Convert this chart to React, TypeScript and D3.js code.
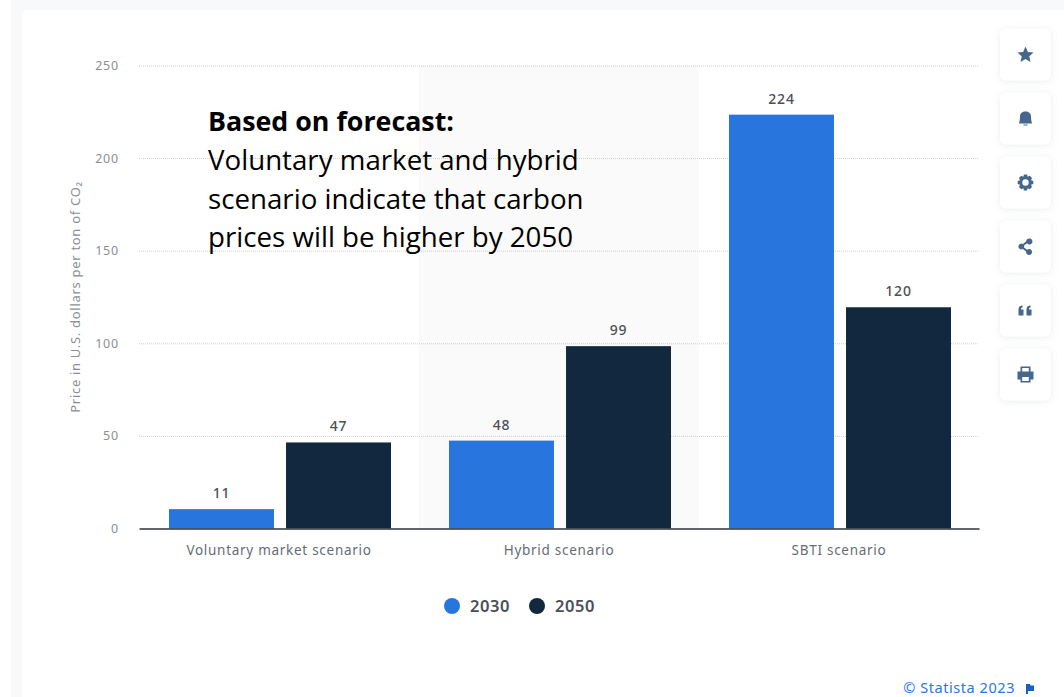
import React, { useEffect, useRef } from 'react';
import * as d3 from 'd3';

const categories = ['Voluntary market scenario', 'Hybrid scenario', 'SBTI scenario'];
const seriesNames = ['2030', '2050'];
const values2030 = [11, 48, 224];
const values2050 = [47, 99, 120];
const yTicks = [0, 50, 100, 150, 200, 250];
const noteLines = [
  'Voluntary market and hybrid',
  'scenario indicate that carbon',
  'prices will be higher by 2050',
];

const width = 1064;
const height = 697;
const margin = { top: 65.5, right: 85, bottom: 168.5, left: 139 };
const colors = ['#2875dd', '#12283e'];
const font = '"Noto Sans", sans-serif';
const noteFont = '"Open Sans", sans-serif';

// side buttons of the page, icons are drawn around the button centre
const buttons = [
  'M0,-8 L2.4,-2.6 L8,-2 L3.8,1.8 L5,7.6 L0,4.6 L-5,7.6 L-3.8,1.8 L-8,-2 L-2.4,-2.6 Z',
  'M-6.5,5 C-6,3 -5.5,1 -5.5,-2 C-5.5,-5.5 -3,-7 0,-7 C3,-7 5.5,-5.5 5.5,-2 C5.5,1 6,3 6.5,5 Z M-2,6 H2 V7 H-2 Z',
  'M-1.6,-8 H1.6 L2.1,-5.8 L4.3,-6.7 L6.5,-4.4 L5.5,-2.3 L7.8,-1.6 V1.6 L5.5,2.3 L6.5,4.4 L4.3,6.7 L2.1,5.8 L1.6,8 H-1.6 L-2.1,5.8 L-4.3,6.7 L-6.5,4.4 L-5.5,2.3 L-7.8,1.6 V-1.6 L-5.5,-2.3 L-6.5,-4.4 L-4.3,-6.7 L-2.1,-5.8 Z M0,-3.2 A3.2,3.2 0 1 0 0,3.2 A3.2,3.2 0 1 0 0,-3.2 Z',
  'M4,-8 A3,3 0 1 1 1.6,-3.2 L-1.5,-1 A3,3 0 0 1 -1.5,1 L1.6,3.2 A3,3 0 1 1 0.6,5 L-2.6,2.6 A3,3 0 1 1 -2.6,-2.6 L0.6,-5 A3,3 0 0 1 4,-8 Z',
  'M-7,-1 C-7,-3.5 -5.5,-5 -3,-5 V-3 C-4,-3 -4.5,-2.5 -4.5,-1 H-2 V5 H-7 Z M1,-1 C1,-3.5 2.5,-5 5,-5 V-3 C4,-3 3.5,-2.5 3.5,-1 H6 V5 H1 Z',
  'M-5,-8 H5 V-3 H8 V5 H5 V8 H-5 V5 H-8 V-3 H-5 Z M-3.3,-6.4 V-3 H3.3 V-6.4 Z M-3.3,2.6 V6.4 H3.3 V2.6 Z',
];

export default function App() {
  const svgRef = useRef<SVGSVGElement>(null);

  useEffect(() => {
    if (!svgRef.current) return;
    const svg = d3.select(svgRef.current);
    svg.selectAll('*').remove();

    const innerWidth = width - margin.left - margin.right;
    const innerHeight = height - margin.top - margin.bottom;

    const defs = svg.append('defs');
    const shadow = defs.append('filter').attr('id', 'soft').attr('x', '-20%').attr('y', '-20%').attr('width', '140%').attr('height', '140%');
    shadow.append('feDropShadow').attr('dx', 0).attr('dy', 1).attr('stdDeviation', 3).attr('flood-color', '#8a94a6').attr('flood-opacity', 0.18);

    // page and card
    svg.append('rect').attr('width', width).attr('height', height).attr('fill', '#ffffff');
    svg.append('rect').attr('x', 11).attr('y', 0).attr('width', width - 11).attr('height', height).attr('fill', '#f8f9fb');
    svg.append('rect').attr('x', 22).attr('y', 10).attr('width', width).attr('height', height + 20).attr('rx', 6).attr('fill', '#ffffff');

    const x = d3.scaleBand<string>().domain(categories).range([0, innerWidth]);
    const x1 = d3.scaleBand<string>().domain(seriesNames).range([30, 252]).paddingInner(0.103);
    const y = d3.scaleLinear().domain([0, 250]).range([innerHeight, 0]);

    const g = svg.append('g').attr('transform', `translate(${margin.left},${margin.top})`);

    // shaded middle category
    g.append('rect')
      .attr('x', x(categories[1])!)
      .attr('y', 0)
      .attr('width', x.bandwidth())
      .attr('height', innerHeight)
      .attr('fill', '#fafafa');

    // y axis
    const yAxis = g.append('g')
      .call(d3.axisLeft(y).tickValues(yTicks).tickSize(-innerWidth).tickPadding(20));
    yAxis.select('.domain').remove();
    yAxis.selectAll('.tick line')
      .attr('stroke', '#cfcfcf')
      .attr('stroke-dasharray', '1,1')
      .filter((d) => d === 0)
      .remove();
    yAxis.selectAll('.tick text')
      .attr('fill', '#8a8f96')
      .attr('font-family', font)
      .attr('font-size', 12.5)
      .attr('letter-spacing', 0.8);

    // bars and value labels
    const rows = seriesNames.map((name, i) => ({
      name,
      color: colors[i],
      values: i === 0 ? values2030 : values2050,
    }));
    rows.forEach((row) => {
      const grp = g.append('g');
      grp.selectAll('rect')
        .data(row.values)
        .enter()
        .append('rect')
        .attr('x', (_, i) => x(categories[i])! + x1(row.name)!)
        .attr('y', (d) => y(d) + 1)
        .attr('width', x1.bandwidth())
        .attr('height', (d) => y(0) - y(d) - 1)
        .attr('fill', row.color);
      grp.selectAll('text')
        .data(row.values)
        .enter()
        .append('text')
        .attr('x', (_, i) => x(categories[i])! + x1(row.name)! + x1.bandwidth() / 2)
        .attr('y', (d) => y(d) - 10)
        .attr('text-anchor', 'middle')
        .attr('fill', '#4a5058')
        .attr('font-family', font)
        .attr('font-size', 14)
        .attr('font-weight', 500)
        .attr('letter-spacing', 0.8)
        .text((d) => d);
    });

    // x axis
    const xAxis = g.append('g')
      .attr('transform', `translate(0,${innerHeight})`)
      .call(d3.axisBottom(x).tickSize(0).tickPadding(17));
    xAxis.select('.domain').attr('stroke', '#2f3337').attr('stroke-width', 1.3);
    xAxis.selectAll('.tick text')
      .attr('fill', '#666c74')
      .attr('font-family', font)
      .attr('font-size', 13.5)
      .attr('letter-spacing', 0.72);

    // y axis title
    svg.append('text')
      .attr('transform', 'translate(80,297) rotate(-90)')
      .attr('text-anchor', 'middle')
      .attr('fill', '#8a8f96')
      .attr('font-family', font)
      .attr('font-size', 13)
      .attr('letter-spacing', 0.7)
      .text('Price in U.S. dollars per ton of CO₂');

    // legend
    const legendX = [452, 537];
    rows.forEach((row, i) => {
      svg.append('circle').attr('cx', legendX[i]).attr('cy', 606).attr('r', 8).attr('fill', row.color);
      svg.append('text')
        .attr('x', legendX[i] + 18)
        .attr('y', 612)
        .attr('fill', '#4a5058')
        .attr('font-family', font)
        .attr('font-size', 16.5)
        .attr('font-weight', 600)
        .attr('letter-spacing', 0.6)
        .text(row.name);
    });

    // annotation
    svg.append('text')
      .attr('x', 208)
      .attr('y', 131)
      .attr('fill', '#000')
      .attr('font-family', noteFont)
      .attr('font-size', 26.8)
      .attr('font-weight', 700)
      .text('Based on forecast:');
    noteLines.forEach((line, i) => {
      svg.append('text')
        .attr('x', 208)
        .attr('y', 170 + i * 38.5)
        .attr('fill', '#000')
        .attr('font-family', noteFont)
        .attr('font-size', 27.7)
        .text(line);
    });

    // side buttons
    buttons.forEach((d, i) => {
      const b = svg.append('g').attr('transform', `translate(1025.5,${54.5 + i * 64})`);
      b.append('rect')
        .attr('x', -25.5).attr('y', -26).attr('width', 51).attr('height', 52).attr('rx', 6)
        .attr('fill', '#ffffff').attr('filter', 'url(#soft)');
      b.append('path').attr('d', d).attr('fill', '#46668c').attr('fill-rule', 'evenodd');
    });

    // source
    svg.append('text')
      .attr('x', 1015)
      .attr('y', 692.5)
      .attr('text-anchor', 'end')
      .attr('fill', '#2b76e0')
      .attr('font-family', font)
      .attr('font-size', 14.5)
      .attr('letter-spacing', 0.55)
      .text('© Statista 2023');
    svg.append('path')
      .attr('d', 'M1026,694 V684 H1030 L1030.5,685.5 H1034 V691 H1028 V694 Z')
      .attr('fill', '#1a5fc4');
  }, []);

  return (
    <svg
      ref={svgRef}
      width={width}
      height={height}
      style={{ position: 'absolute', left: 0, top: 0 }}
      role="img"
      aria-label="Carbon prices by scenario"
    />
  );
}
